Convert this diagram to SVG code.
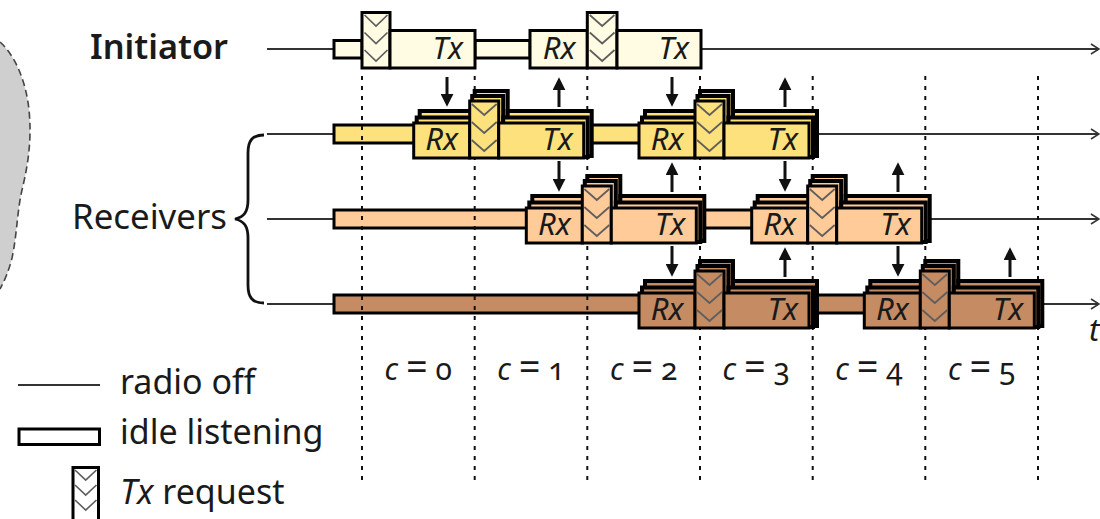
<svg xmlns="http://www.w3.org/2000/svg" width="1100" height="519" viewBox="0 0 1100 519">
<defs>
<marker id="ah" viewBox="0 0 12 12" refX="2" refY="6" markerWidth="13" markerHeight="13" markerUnits="userSpaceOnUse" orient="auto"><path d="M0,0 L12,6 L0,12 z" fill="#111"/></marker>
<marker id="oa" viewBox="0 0 10 12" refX="9" refY="6" markerWidth="10" markerHeight="12" markerUnits="userSpaceOnUse" orient="auto"><path d="M1,1 L9,6 L1,11" fill="none" stroke="#333" stroke-width="1.6"/></marker>
</defs>
<style>
.ax{stroke:#333;stroke-width:2;fill:none;marker-end:url(#oa)}
.bx{stroke:#000;stroke-width:3}
.bk{stroke:#000;stroke-width:4}
.c0{fill:#FFFCE3}.c1{fill:#FCE17C}.c2{fill:#FFCB98}.c3{fill:#C58B63}
.ch{fill:none;stroke:#5e5e5e;stroke-width:1.7}
.dl{stroke:#111;stroke-width:2;stroke-dasharray:4 6}
.ar{stroke:#111;stroke-width:3;marker-end:url(#ah)}
.lb{font-family:"Noto Sans","Open Sans",sans-serif;fill:#1a1a1a}
.bt{font-family:"Noto Sans","Open Sans",sans-serif;font-style:italic;font-size:31px;fill:#1a1a1a}
.cl{font-family:"Noto Sans","Open Sans",sans-serif;font-size:30px;fill:#1a1a1a;font-variant-numeric:oldstyle-nums}
.eq{font-size:38px}
</style>

<g id="blob">
<path d="M0,42 C14,54 26,80 29,110 C32,140 28,165 22,190 C17,212 17,235 12,258 C9,270 5,280 0,289 Z" fill="#cfcfcf"/>
<path d="M0,42 C14,54 26,80 29,110 C32,140 28,165 22,190 C17,212 17,235 12,258 C9,270 5,280 0,289" fill="none" stroke="#444" stroke-width="1.6" stroke-dasharray="7 4"/>
</g>

<g id="labels">
<text class="lb" x="90" y="59" font-size="35" font-weight="600" textLength="138" lengthAdjust="spacingAndGlyphs">Initiator</text>
<text class="lb" x="72" y="229" font-size="35" textLength="155" lengthAdjust="spacingAndGlyphs">Receivers</text>
<path d="M264,135 C252,135 248,141 248,153 L248,200 C248,212 244,217 235,219 C244,221 248,226 248,238 L248,285 C248,297 252,303 264,303" fill="none" stroke="#111" stroke-width="2.8"/>
<text class="bt" x="1089" y="341" font-size="32">t</text>
</g>

<g id="timelines">
<line class="ax" x1="267" y1="49" x2="1099" y2="49"/>
<line class="ax" x1="267" y1="134" x2="1099" y2="134"/>
<line class="ax" x1="267" y1="219" x2="1099" y2="219"/>
<line class="ax" x1="267" y1="304" x2="1099" y2="304"/>
<rect class="bx c1" x="334" y="125" width="82" height="18"/>
<rect class="bx c1" x="585" y="125" width="57" height="18"/>
<rect class="bx c2" x="334" y="210" width="195" height="18"/>
<rect class="bx c2" x="698" y="210" width="56" height="18"/>
<rect class="bx c3" x="334" y="295" width="308" height="18"/>
<rect class="bx c3" x="810" y="295" width="57" height="18"/>
</g>

<g id="grid">
<line class="dl" x1="362" y1="76" x2="362" y2="480"/>
<line class="dl" x1="474.7" y1="76" x2="474.7" y2="480"/>
<line class="dl" x1="587.3" y1="76" x2="587.3" y2="480"/>
<line class="dl" x1="700" y1="76" x2="700" y2="480"/>
<line class="dl" x1="812.7" y1="76" x2="812.7" y2="480"/>
<line class="dl" x1="925.3" y1="76" x2="925.3" y2="480"/>
<line class="dl" x1="1038" y1="76" x2="1038" y2="480"/>
</g>

<g id="initiator">
<rect class="bx c0" x="334" y="40.5" width="28" height="17.5"/>
<rect class="bx c0" x="475" y="40.5" width="55" height="17.5"/>
<rect class="bx c0" x="362" y="12.5" width="28" height="55.5"/>
<rect class="bx c0" x="390" y="30.5" width="85" height="37.5"/>
<rect class="bx c0" x="530" y="30.5" width="57.3" height="37.5"/>
<rect class="bx c0" x="587.3" y="12.5" width="29.7" height="55.5"/>
<rect class="bx c0" x="617" y="30.5" width="84" height="37.5"/>
<polyline class="ch" points="364.5,15 376,26 387.5,15"/>
<polyline class="ch" points="364.5,32.5 376,43.5 387.5,32.5"/>
<polyline class="ch" points="364.5,50 376,61 387.5,50"/>
<polyline class="ch" points="589.8,15 602.2,26 614.5,15"/>
<polyline class="ch" points="589.8,32.5 602.2,43.5 614.5,32.5"/>
<polyline class="ch" points="589.8,50 602.2,61 614.5,50"/>
<text class="bt" x="463" y="59" text-anchor="end">Tx</text>
<text class="bt" x="559" y="59" text-anchor="middle">Rx</text>
<text class="bt" x="689" y="59" text-anchor="end">Tx</text>
</g>

<g id="r1a" transform="translate(474.7,134)">
<rect class="bk c1" x="-55" y="-23" width="55" height="45"/><rect class="bk c1" x="0" y="-43" width="33" height="65"/><rect class="bk c1" x="33" y="-23" width="84" height="45"/>
<rect class="bk c1" x="-58" y="-16.5" width="55.5" height="39.5"/><rect class="bk c1" x="-2.5" y="-38" width="31" height="61"/><rect class="bk c1" x="28.5" y="-16.5" width="84.5" height="39.5"/>
<rect class="bx c1" x="-61" y="-11" width="56" height="35"/><rect class="bx c1" x="-5" y="-33" width="29" height="57"/><rect class="bx c1" x="24" y="-11" width="85" height="35"/>
<polyline class="ch" points="-3,-30 9.5,-19 22,-30"/><polyline class="ch" points="-3,-12 9.5,-1 22,-12"/><polyline class="ch" points="-3,6 9.5,17 22,6"/>
<text class="bt" x="-33" y="16" text-anchor="middle">Rx</text><text class="bt" x="98" y="16" text-anchor="end">Tx</text>
</g>
<g id="r1b" transform="translate(700,134)">
<rect class="bk c1" x="-55" y="-23" width="55" height="45"/><rect class="bk c1" x="0" y="-43" width="33" height="65"/><rect class="bk c1" x="33" y="-23" width="84" height="45"/>
<rect class="bk c1" x="-58" y="-16.5" width="55.5" height="39.5"/><rect class="bk c1" x="-2.5" y="-38" width="31" height="61"/><rect class="bk c1" x="28.5" y="-16.5" width="84.5" height="39.5"/>
<rect class="bx c1" x="-61" y="-11" width="56" height="35"/><rect class="bx c1" x="-5" y="-33" width="29" height="57"/><rect class="bx c1" x="24" y="-11" width="85" height="35"/>
<polyline class="ch" points="-3,-30 9.5,-19 22,-30"/><polyline class="ch" points="-3,-12 9.5,-1 22,-12"/><polyline class="ch" points="-3,6 9.5,17 22,6"/>
<text class="bt" x="-33" y="16" text-anchor="middle">Rx</text><text class="bt" x="98" y="16" text-anchor="end">Tx</text>
</g>
<g id="r2a" transform="translate(587.3,219)">
<rect class="bk c2" x="-55" y="-23" width="55" height="45"/><rect class="bk c2" x="0" y="-43" width="33" height="65"/><rect class="bk c2" x="33" y="-23" width="84" height="45"/>
<rect class="bk c2" x="-58" y="-16.5" width="55.5" height="39.5"/><rect class="bk c2" x="-2.5" y="-38" width="31" height="61"/><rect class="bk c2" x="28.5" y="-16.5" width="84.5" height="39.5"/>
<rect class="bx c2" x="-61" y="-11" width="56" height="35"/><rect class="bx c2" x="-5" y="-33" width="29" height="57"/><rect class="bx c2" x="24" y="-11" width="85" height="35"/>
<polyline class="ch" points="-3,-30 9.5,-19 22,-30"/><polyline class="ch" points="-3,-12 9.5,-1 22,-12"/><polyline class="ch" points="-3,6 9.5,17 22,6"/>
<text class="bt" x="-33" y="16" text-anchor="middle">Rx</text><text class="bt" x="98" y="16" text-anchor="end">Tx</text>
</g>
<g id="r2b" transform="translate(812.7,219)">
<rect class="bk c2" x="-55" y="-23" width="55" height="45"/><rect class="bk c2" x="0" y="-43" width="33" height="65"/><rect class="bk c2" x="33" y="-23" width="84" height="45"/>
<rect class="bk c2" x="-58" y="-16.5" width="55.5" height="39.5"/><rect class="bk c2" x="-2.5" y="-38" width="31" height="61"/><rect class="bk c2" x="28.5" y="-16.5" width="84.5" height="39.5"/>
<rect class="bx c2" x="-61" y="-11" width="56" height="35"/><rect class="bx c2" x="-5" y="-33" width="29" height="57"/><rect class="bx c2" x="24" y="-11" width="85" height="35"/>
<polyline class="ch" points="-3,-30 9.5,-19 22,-30"/><polyline class="ch" points="-3,-12 9.5,-1 22,-12"/><polyline class="ch" points="-3,6 9.5,17 22,6"/>
<text class="bt" x="-33" y="16" text-anchor="middle">Rx</text><text class="bt" x="98" y="16" text-anchor="end">Tx</text>
</g>
<g id="r3a" transform="translate(700,304)">
<rect class="bk c3" x="-55" y="-23" width="55" height="45"/><rect class="bk c3" x="0" y="-43" width="33" height="65"/><rect class="bk c3" x="33" y="-23" width="84" height="45"/>
<rect class="bk c3" x="-58" y="-16.5" width="55.5" height="39.5"/><rect class="bk c3" x="-2.5" y="-38" width="31" height="61"/><rect class="bk c3" x="28.5" y="-16.5" width="84.5" height="39.5"/>
<rect class="bx c3" x="-61" y="-11" width="56" height="35"/><rect class="bx c3" x="-5" y="-33" width="29" height="57"/><rect class="bx c3" x="24" y="-11" width="85" height="35"/>
<polyline class="ch" points="-3,-30 9.5,-19 22,-30"/><polyline class="ch" points="-3,-12 9.5,-1 22,-12"/><polyline class="ch" points="-3,6 9.5,17 22,6"/>
<text class="bt" x="-33" y="16" text-anchor="middle">Rx</text><text class="bt" x="98" y="16" text-anchor="end">Tx</text>
</g>
<g id="r3b" transform="translate(925.3,304)">
<rect class="bk c3" x="-55" y="-23" width="55" height="45"/><rect class="bk c3" x="0" y="-43" width="33" height="65"/><rect class="bk c3" x="33" y="-23" width="84" height="45"/>
<rect class="bk c3" x="-58" y="-16.5" width="55.5" height="39.5"/><rect class="bk c3" x="-2.5" y="-38" width="31" height="61"/><rect class="bk c3" x="28.5" y="-16.5" width="84.5" height="39.5"/>
<rect class="bx c3" x="-61" y="-11" width="56" height="35"/><rect class="bx c3" x="-5" y="-33" width="29" height="57"/><rect class="bx c3" x="24" y="-11" width="85" height="35"/>
<polyline class="ch" points="-3,-30 9.5,-19 22,-30"/><polyline class="ch" points="-3,-12 9.5,-1 22,-12"/><polyline class="ch" points="-3,6 9.5,17 22,6"/>
<text class="bt" x="-33" y="16" text-anchor="middle">Rx</text><text class="bt" x="98" y="16" text-anchor="end">Tx</text>
</g>

<g id="connectors">
<line class="ar" x1="447" y1="77" x2="447" y2="96"/>
<line class="ar" x1="559" y1="107" x2="559" y2="88"/>
<line class="ar" x1="672" y1="77" x2="672" y2="96"/>
<line class="ar" x1="785" y1="107" x2="785" y2="88"/>
<line class="ar" x1="559" y1="161" x2="559" y2="181"/>
<line class="ar" x1="672" y1="192" x2="672" y2="173"/>
<line class="ar" x1="785" y1="161" x2="785" y2="181"/>
<line class="ar" x1="898" y1="192" x2="898" y2="173"/>
<line class="ar" x1="672" y1="246" x2="672" y2="266"/>
<line class="ar" x1="785" y1="277" x2="785" y2="258"/>
<line class="ar" x1="898" y1="246" x2="898" y2="266"/>
<line class="ar" x1="1010" y1="277" x2="1010" y2="258"/>
</g>

<g id="slots">
<text class="cl" x="418.3" y="380" text-anchor="middle"><tspan font-style="italic">c</tspan> <tspan class="eq">=</tspan> 0</text>
<text class="cl" x="531" y="380" text-anchor="middle"><tspan font-style="italic">c</tspan> <tspan class="eq">=</tspan> 1</text>
<text class="cl" x="643.7" y="380" text-anchor="middle"><tspan font-style="italic">c</tspan> <tspan class="eq">=</tspan> 2</text>
<text class="cl" x="756.3" y="380" text-anchor="middle"><tspan font-style="italic">c</tspan> <tspan class="eq">=</tspan> 3</text>
<text class="cl" x="869" y="380" text-anchor="middle"><tspan font-style="italic">c</tspan> <tspan class="eq">=</tspan> 4</text>
<text class="cl" x="981.7" y="380" text-anchor="middle"><tspan font-style="italic">c</tspan> <tspan class="eq">=</tspan> 5</text>
</g>

<g id="legend">
<line x1="18" y1="385" x2="100" y2="385" stroke="#333" stroke-width="2"/>
<text class="lb" x="120" y="394" font-size="34">radio off</text>
<rect class="bx" x="19" y="429" width="80.5" height="15.5" fill="#fff"/>
<text class="lb" x="120" y="444" font-size="34">idle listening</text>
<rect class="bx" x="73" y="467.5" width="25.5" height="60" fill="#fff"/>
<polyline class="ch" points="75,470 85.7,480 96.5,470"/>
<polyline class="ch" points="75,485 85.7,495 96.5,485"/>
<polyline class="ch" points="75,500 85.7,510 96.5,500"/>
<text class="lb" x="120" y="504" font-size="34"><tspan font-style="italic">Tx</tspan> request</text>
</g>
</svg>
